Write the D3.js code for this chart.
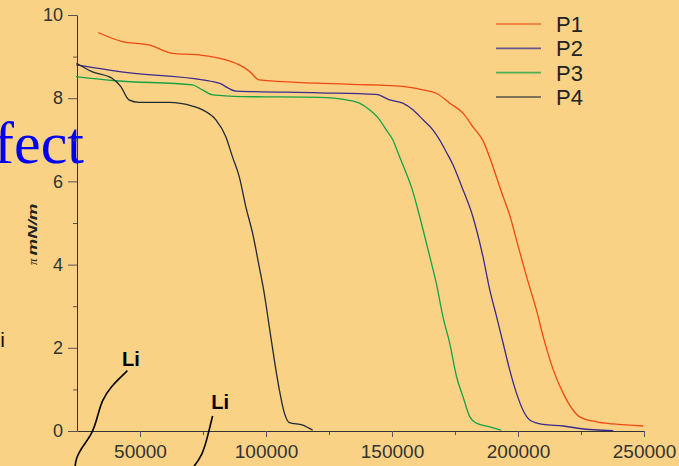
<!DOCTYPE html>
<html>
<head>
<meta charset="utf-8">
<script src="https://cdn.jsdelivr.net/npm/d3@7"></script>
<style>
  html, body { margin: 0; padding: 0; background: #f9d285; }
  svg { display: block; }
</style>
</head>
<body>
<div id="container"></div>
<script>
const width = 679;
const height = 466;

// data: [area, pressure]
const seriesNames = ["P1", "P2", "P3", "P4"];
const seriesColors = ["#f04812", "#3b2b8c", "#14a346", "#1f2a33"];

const p1 = [
  [33400, 9.58], [43000, 9.36], [53600, 9.28], [62900, 9.08], [73500, 9.04],
  [84100, 8.92], [90700, 8.76], [93400, 8.65], [97300, 8.44], [119900, 8.36],
  [153000, 8.29], [162300, 8.20], [167600, 8.12], [172900, 7.88], [178200, 7.64],
  [182100, 7.31], [186100, 6.98], [189500, 6.45], [193400, 5.75],
  [196900, 5.15], [199400, 4.59], [203400, 3.71], [207300, 2.91], [210000, 2.27],
  [214000, 1.47], [217900, 0.91], [224500, 0.34], [231200, 0.22], [237800, 0.17],
  [249700, 0.12]
];
const p2 = [
  [24700, 8.80], [44300, 8.62], [74800, 8.44], [81400, 8.36], [88100, 8.17],
  [121200, 8.13], [143700, 8.09], [149000, 7.96], [154300, 7.88], [158300, 7.72],
  [162300, 7.48], [166200, 7.24], [168900, 7.00], [171600, 6.70], [174200, 6.40],
  [177500, 5.90], [182100, 5.15], [186100, 4.19], [188800, 3.39],
  [191500, 2.75], [194100, 2.11], [196700, 1.47], [199400, 0.91], [202000, 0.50],
  [204800, 0.26], [210000, 0.16], [217900, 0.12], [224500, 0.06], [237800, 0.01]
];
const p3 = [
  [24600, 8.52], [40400, 8.42], [70800, 8.32], [74800, 8.20], [78800, 8.08],
  [90600, 8.04], [121200, 8.02], [131800, 7.96], [137100, 7.88], [141100, 7.72],
  [145100, 7.48], [147700, 7.24], [150300, 7.00], [153000, 6.59], [155700, 6.19],
  [158100, 5.79], [161000, 5.15], [165000, 4.19], [167600, 3.55], [170200, 2.75],
  [172900, 2.11], [175600, 1.31], [178200, 0.82], [180900, 0.34], [183500, 0.19],
  [188800, 0.10], [193400, 0.02]
];
const p4 = [
  [24800, 8.84], [30900, 8.64], [38900, 8.48], [42400, 8.28], [45600, 7.96],
  [49600, 7.90], [61500, 7.90], [70800, 7.81], [74800, 7.72], [80100, 7.48],
  [84100, 7.07], [86700, 6.59], [89400, 6.11], [92000, 5.39], [94700, 4.75],
  [97300, 3.95], [99300, 3.31], [101300, 2.51], [103300, 1.71], [105300, 0.99],
  [107300, 0.43], [109300, 0.20], [114600, 0.14], [118500, 0.02]
];
const seriesData = [p1, p2, p3, p4];

const xTicks = [50000, 100000, 150000, 200000, 250000];
const xMinorTicks = [75000, 125000, 175000, 225000];
const yTicks = [0, 2, 4, 6, 8, 10];
const yMinorTicks = [1, 3, 5, 7, 9];

// "Li" annotation strokes, in data coordinates
const liLabels = [
  { text: "Li", x: 42900, y: 1.56 },
  { text: "Li", x: 78300, y: 0.53 }
];
const liPath1 = [
  [45000, 1.45], [38400, 1.07], [34800, 0.73], [33000, 0.31], [31100, -0.06],
  [27100, -0.38], [24500, -0.66], [24200, -0.9]
];
const liPath2 = [
  [78800, 0.36], [76800, -0.14], [74800, -0.58], [70800, -0.9]
];

const margin = { top: 15, right: 35, bottom: 35, left: 77 };
const innerWidth = width - margin.left - margin.right;
const innerHeight = height - margin.top - margin.bottom;

const svg = d3.select("#container")
  .append("svg")
  .attr("width", width)
  .attr("height", height)
  .style("font-family", "Liberation Sans, Arial, sans-serif");

svg.append("rect")
  .attr("width", width)
  .attr("height", height)
  .attr("fill", "#f9d285");

// scales
const scaleX = d3.scaleLinear()
  .domain([25000, 250000])
  .range([0, innerWidth]);
const scaleY = d3.scaleLinear()
  .domain([0, 10])
  .range([innerHeight, 0]);

// background slide text
svg.append("text")
  .attr("x", 84)
  .attr("y", 163)
  .attr("text-anchor", "end")
  .attr("fill", "#0000f0")
  .style("font-family", "Liberation Serif, Times New Roman, serif")
  .style("font-size", "60px")
  .text("fect");
svg.append("text")
  .attr("x", 5)
  .attr("y", 347)
  .attr("text-anchor", "end")
  .attr("fill", "#111")
  .style("font-size", "21px")
  .text("Li");

const g = svg.append("g")
  .attr("transform", `translate(${margin.left}, ${margin.top})`);

// groups
const groupAxisX = g.append("g")
  .attr("class", "groupAxisX")
  .attr("transform", `translate(0, ${innerHeight})`);
const groupAxisY = g.append("g")
  .attr("class", "groupAxisY");
const groupMain = g.append("g")
  .attr("class", "groupMarks");
const groupAnno = g.append("g")
  .attr("class", "groupAnno");
const groupLegend = svg.append("g")
  .attr("class", "groupLegend");

// axes
const styleAxis = (sel) => {
  sel.select(".domain").attr("stroke", "#333");
  sel.selectAll(".tick line").attr("stroke", "#555");
  sel.selectAll(".tick text")
    .attr("fill", "#333")
    .style("font-size", "19px")
    .style("font-family", "Liberation Sans, Arial, sans-serif");
};

groupAxisX.call(d3.axisBottom(scaleX).tickValues(xMinorTicks).tickSize(4).tickFormat(""))
  .call(s => s.select(".domain").remove())
  .call(s => s.selectAll(".tick line").attr("stroke", "#555"));
groupAxisX.append("g")
  .call(d3.axisBottom(scaleX).tickValues(xTicks).tickSize(6).tickSizeOuter(0).tickPadding(8).tickFormat(d3.format("d")))
  .call(styleAxis);

groupAxisY.call(d3.axisLeft(scaleY).tickValues(yMinorTicks).tickSize(4).tickFormat(""))
  .call(s => s.select(".domain").remove())
  .call(s => s.selectAll(".tick line").attr("stroke", "#555"));
groupAxisY.append("g")
  .call(d3.axisLeft(scaleY).tickValues(yTicks).tickSize(9).tickSizeOuter(0).tickPadding(5).tickFormat(d3.format("d")))
  .call(styleAxis)
  .call(s => s.selectAll(".tick text").style("font-size", "18px"));

// y label
const yLabel = svg.append("text")
  .attr("transform", `translate(37, 265) rotate(-90)`)
  .attr("text-anchor", "start")
  .attr("fill", "#222")
  .style("font-size", "13px")
  .style("font-style", "italic");
yLabel.append("tspan").style("font-family", "Liberation Serif, serif").text("π");
yLabel.append("tspan")
  .attr("dx", 3)
  .attr("textLength", 52)
  .attr("lengthAdjust", "spacingAndGlyphs")
  .style("font-weight", "bold")
  .text("mN/m");

// lines
const line = d3.line()
  .x(d => scaleX(d[0]))
  .y(d => scaleY(d[1]))
  .curve(d3.curveMonotoneX);

groupMain.selectAll("path")
  .data(seriesData)
  .join("path")
  .attr("fill", "none")
  .attr("stroke", (d, i) => seriesColors[i])
  .attr("stroke-width", 1.3)
  .attr("d", line);

// annotations
const annoLine = d3.line()
  .x(d => scaleX(d[0]))
  .y(d => scaleY(d[1]))
  .curve(d3.curveBasis);
groupAnno.selectAll("path")
  .data([liPath1, liPath2])
  .join("path")
  .attr("fill", "none")
  .attr("stroke", "#000")
  .attr("stroke-width", 1.6)
  .attr("d", annoLine);
groupAnno.selectAll("text")
  .data(liLabels)
  .join("text")
  .attr("x", d => scaleX(d.x))
  .attr("y", d => scaleY(d.y))
  .attr("fill", "#000")
  .style("font-size", "20px")
  .style("font-weight", "bold")
  .text(d => d.text);

// legend
const legendY = d3.scalePoint()
  .domain(seriesNames)
  .range([24, 97]);
const legendItems = groupLegend.selectAll("g")
  .data(seriesNames)
  .join("g")
  .attr("transform", d => `translate(0, ${legendY(d)})`);
legendItems.append("line")
  .attr("x1", 496)
  .attr("x2", 541)
  .attr("stroke", (d, i) => seriesColors[i])
  .attr("stroke-opacity", 0.75)
  .attr("stroke-width", 1.6);
legendItems.append("text")
  .attr("x", 556)
  .attr("y", 8)
  .attr("fill", "#222")
  .style("font-size", "22px")
  .text(d => d);
</script>
</body>
</html>
